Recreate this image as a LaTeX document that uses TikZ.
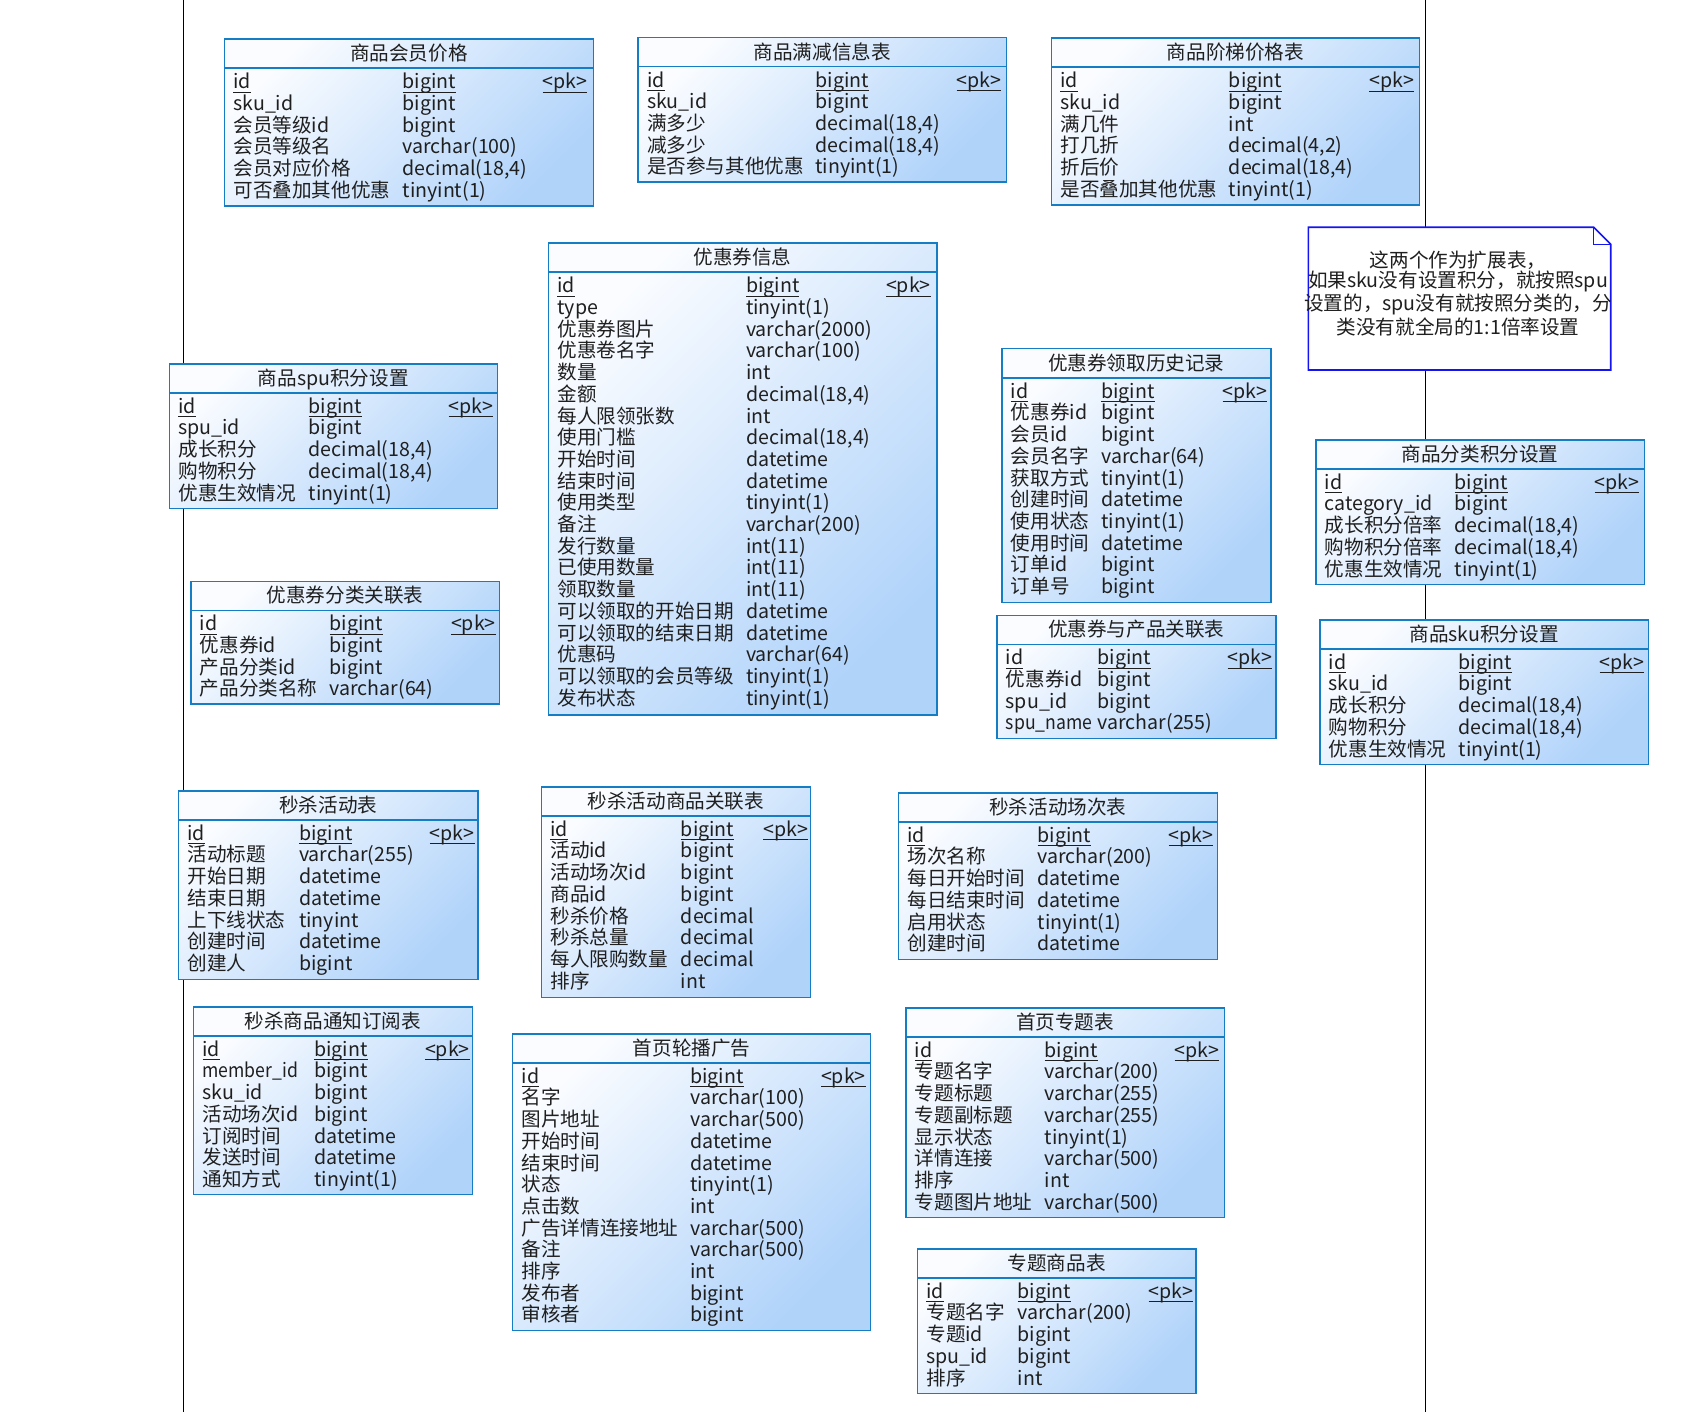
\documentclass[tikz,border=0pt]{standalone}
\usepackage{fontspec}
\usepackage{graphicx}
\setmainfont{Noto Sans CJK SC}
\definecolor{tabA}{RGB}{250,252,255}
\definecolor{tabB}{RGB}{176,211,250}
\definecolor{tabline}{RGB}{20,125,195}
\definecolor{noteline}{RGB}{20,20,240}
\newcommand\tblfont{\fontsize{9.8pt}{10pt}\selectfont}
\newcommand\ul[1]{\setbox0=\hbox{#1}\rlap{\rule[-2pt]{\wd0}{0.5pt}}\box0}
\newcommand\narrow[1]{\scalebox{0.9}[1]{#1}}
\newcommand\erdtable[9]{%
  \shade[tblfill] (#2,#3) rectangle (#4,#5);
  \draw[tblline] (#2,#3) rectangle (#4,#5);
  \draw[tblline] (#2,{#3+29}) -- (#4,{#3+29});
  \node[tbltitle] (#1) at ({(#2+#4)/2},{#3+21.5}) {#8};
  \node[fld] (#1-n1) at ({#2+8.7},{#3+49.5}) {\ul{id}};
  \node[fld] (#1-t1) at (#6,{#3+49.5}) {\ul{bigint}};
  \node[fld] (#1-pk) at (#7,{#3+49.5}) {\ul{<pk>}};
  \foreach \fname/\ftype [count=\i from 2] in {#9}{
    \node[fld] (#1-n\i) at ({#2+8.7},{#3+49.5+21.7*(\i-1)}) {\fname};
    \node[fld] (#1-t\i) at (#6,{#3+49.5+21.7*(\i-1)}) {\ftype};
  }%
}
\begin{document}
\begin{tikzpicture}[
  x=0.5pt, y=-0.5pt,
  tblfill/.style={left color=tabA, right color=tabB, shading angle=45},
  tblline/.style={draw=tabline, line width=0.8pt},
  tbltitle/.style={anchor=base, inner sep=0pt, font=\tblfont, text=black!88},
  fld/.style={anchor=base west, inner sep=0pt, font=\tblfont, text=black!88},
  frame/.style={draw=black, line width=0.7pt},
  notebox/.style={draw=noteline, fill=white, line width=0.8pt, line join=miter}
]
\useasboundingbox (0,0) rectangle (1703,1412);

\draw[frame] (183.5,0) -- (183.5,1412);
\draw[frame] (1425.5,0) -- (1425.5,1412);

\erdtable{memberprice}{224.3}{39.3}{593.3}{206}{402.3}{542.3}{商品会员价格}{%
  sku\_id/bigint, 会员等级id/bigint, 会员等级名/varchar(100),
  会员对应价格/{decimal(18,4)}, 可否叠加其他优惠/tinyint(1)}
\erdtable{fullreduct}{638}{37.7}{1006.4}{182.3}{815.2}{956.3}{商品满减信息表}{%
  sku\_id/bigint, 满多少/{decimal(18,4)}, 减多少/{decimal(18,4)},
  是否参与其他优惠/tinyint(1)}
\erdtable{ladder}{1051.3}{38.3}{1419.6}{205.3}{1228.5}{1369}{商品阶梯价格表}{%
  sku\_id/bigint, 满几件/int, 打几折/{decimal(4,2)}, 折后价/{decimal(18,4)},
  是否叠加其他优惠/tinyint(1)}
\erdtable{coupon}{548.3}{243.3}{936.7}{715}{745.7}{885.7}{优惠券信息}{%
  type/tinyint(1), 优惠券图片/varchar(2000), 优惠卷名字/varchar(100), 数量/int,
  金额/{decimal(18,4)}, 每人限领张数/int, 使用门槛/{decimal(18,4)},
  开始时间/datetime, 结束时间/datetime, 使用类型/tinyint(1), 备注/varchar(200),
  发行数量/int(11), 已使用数量/int(11), 领取数量/int(11),
  可以领取的开始日期/datetime, 可以领取的结束日期/datetime, 优惠码/varchar(64),
  可以领取的会员等级/tinyint(1), 发布状态/tinyint(1)}
\erdtable{spubounds}{169.3}{363.7}{497.3}{508.3}{308.3}{448.3}{商品spu积分设置}{%
  spu\_id/bigint, 成长积分/{decimal(18,4)}, 购物积分/{decimal(18,4)},
  优惠生效情况/tinyint(1)}
\erdtable{couponcat}{190.7}{581.3}{499.3}{704}{329.3}{450.7}{优惠券分类关联表}{%
  优惠券id/bigint, 产品分类id/bigint, 产品分类名称/varchar(64)}
\erdtable{couponhist}{1001.7}{348.7}{1270.7}{602.3}{1101}{1222.3}{优惠券领取历史记录}{%
  优惠券id/bigint, 会员id/bigint, 会员名字/varchar(64), 获取方式/tinyint(1),
  创建时间/datetime, 使用状态/tinyint(1), 使用时间/datetime, 订单id/bigint,
  订单号/bigint}
\erdtable{couponspu}{996.7}{615.3}{1275.7}{738.3}{1097.3}{1227.3}{优惠券与产品关联表}{%
  优惠券id/bigint, spu\_id/bigint, \narrow{spu\_name}/varchar(255)}
\erdtable{catbounds}{1315.7}{439.7}{1644.3}{584.3}{1454.3}{1594.3}{商品分类积分设置}{%
  category\_id/bigint, 成长积分倍率/{decimal(18,4)}, 购物积分倍率/{decimal(18,4)},
  优惠生效情况/tinyint(1)}
\erdtable{skubounds}{1319.7}{619.7}{1648.3}{764.3}{1458.3}{1599.3}{商品sku积分设置}{%
  sku\_id/bigint, 成长积分/{decimal(18,4)}, 购物积分/{decimal(18,4)},
  优惠生效情况/tinyint(1)}
\erdtable{seckill}{178.4}{790.7}{478}{979.3}{298.7}{429.5}{秒杀活动表}{%
  活动标题/varchar(255), 开始日期/datetime, 结束日期/datetime, 上下线状态/tinyint,
  创建时间/datetime, 创建人/bigint}
\erdtable{seckillsku}{541.3}{786.7}{810.5}{997.3}{680.5}{762.8}{秒杀活动商品关联表}{%
  活动id/bigint, 活动场次id/bigint, 商品id/bigint, 秒杀价格/decimal,
  秒杀总量/decimal, 每人限购数量/decimal, 排序/int}
\erdtable{session}{898.3}{792.7}{1217.3}{959.3}{1037.3}{1168.3}{秒杀活动场次表}{%
  场次名称/varchar(200), 每日开始时间/datetime, 每日结束时间/datetime,
  启用状态/tinyint(1), 创建时间/datetime}
\erdtable{notice}{193.4}{1006.7}{472.4}{1194.3}{313.9}{424.6}{秒杀商品通知订阅表}{%
  \narrow{member\_id}/bigint, sku\_id/bigint, 活动场次id/bigint, 订阅时间/datetime,
  发送时间/datetime, 通知方式/tinyint(1)}
\erdtable{adv}{512.6}{1033.7}{870.6}{1330.3}{689.8}{820.6}{首页轮播广告}{%
  名字/varchar(100), 图片地址/varchar(500), 开始时间/datetime, 结束时间/datetime,
  状态/tinyint(1), 点击数/int, 广告详情连接地址/varchar(500), 备注/varchar(500),
  排序/int, 发布者/bigint, 审核者/bigint}
\erdtable{subject}{905.7}{1007.7}{1224.3}{1217.3}{1044.3}{1174.3}{首页专题表}{%
  专题名字/varchar(200), 专题标题/varchar(255), 专题副标题/varchar(255),
  显示状态/tinyint(1), 详情连接/varchar(500), 排序/int, 专题图片地址/varchar(500)}
\erdtable{subjectspu}{917.3}{1248.7}{1196}{1393.3}{1017.3}{1148.3}{专题商品表}{%
  专题名字/varchar(200), 专题id/bigint, spu\_id/bigint, 排序/int}

\draw[notebox] (1308.3,227.3) -- (1593.7,227.3) -- (1610.7,244.3) -- (1610.7,370)
  -- (1308.3,370) -- cycle;
\draw[draw=noteline, line width=0.6pt] (1593.7,227.3) |- (1610.7,244.3);
\node[align=center, inner sep=0pt, font=\fontsize{9.8pt}{10pt}\selectfont, text=black!88]
  (note) at (1458,293.5) {这两个作为扩展表，\\如果sku没有设置积分，就按照spu\\
  设置的，spu没有就按照分类的，分\\类没有就全局的1:1倍率设置};
\end{tikzpicture}
\end{document}
